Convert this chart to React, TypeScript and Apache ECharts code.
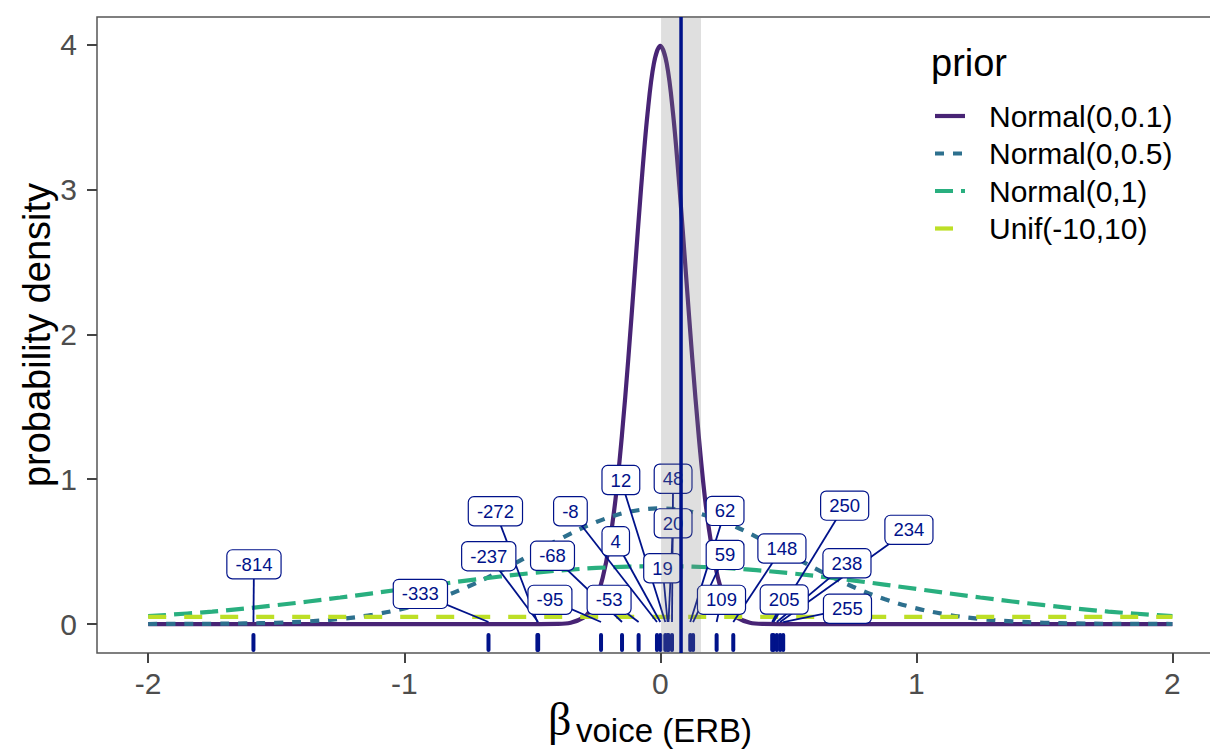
import React, { useEffect, useRef } from 'react';
import * as echarts from 'echarts';

// ---------- data ----------
const n01X = [-2, -0.5, -0.4, -0.35, -0.3, -0.275, -0.25, -0.225, -0.2, -0.175, -0.15, -0.125, -0.1, -0.075, -0.05, -0.025, 0, 0.025, 0.05, 0.075, 0.1, 0.125, 0.15, 0.175, 0.2, 0.225, 0.25, 0.275, 0.3, 0.35, 0.4, 0.5, 2];
const n01Y = [0, 0, 0.001, 0.009, 0.044, 0.091, 0.175, 0.32, 0.54, 0.86, 1.3, 1.83, 2.42, 3.01, 3.52, 3.87, 3.99, 3.87, 3.52, 3.01, 2.42, 1.83, 1.3, 0.86, 0.54, 0.32, 0.175, 0.091, 0.044, 0.009, 0.001, 0, 0];

const n05X = [-2, -1.875, -1.75, -1.625, -1.5, -1.375, -1.25, -1.125, -1, -0.875, -0.75, -0.625, -0.5, -0.375, -0.25, -0.125, 0, 0.125, 0.25, 0.375, 0.5, 0.625, 0.75, 0.875, 1, 1.125, 1.25, 1.375, 1.5, 1.625, 1.75, 1.875, 2];
const n05Y = [0.0003, 0.0007, 0.0017, 0.0041, 0.0089, 0.0182, 0.035, 0.0634, 0.108, 0.1725, 0.259, 0.3653, 0.4839, 0.6023, 0.7041, 0.7734, 0.798, 0.7734, 0.7041, 0.6023, 0.4839, 0.3653, 0.259, 0.1725, 0.108, 0.0634, 0.035, 0.0182, 0.0089, 0.0041, 0.0017, 0.0007, 0.0003];

const n1X = [-2, -1.75, -1.5, -1.25, -1, -0.75, -0.5, -0.25, 0, 0.25, 0.5, 0.75, 1, 1.25, 1.5, 1.75, 2];
const n1Y = [0.054, 0.086, 0.13, 0.183, 0.242, 0.301, 0.352, 0.387, 0.399, 0.387, 0.352, 0.301, 0.242, 0.183, 0.13, 0.086, 0.054];

const unifX = [-2, 2];
const unifY = [0.05, 0.05];

const priorNames = ['Normal(0,0.1)', 'Normal(0,0.5)', 'Normal(0,1)', 'Unif(-10,10)'];

const labelNames = ['-814', '-333', '-272', '-237', '-95', '-68', '-53', '-8', '4', '12', '19', '20', '48', '62', '59', '109', '148', '205', '250', '238', '234', '255'];
const pointX = [-1.589, -0.671, -0.48, -0.477, -0.2315, -0.1495, -0.0847, -0.013, 0.0, 0.0195, 0.0285, 0.032, 0.0457, 0.117, 0.128, 0.22, 0.285, 0.437, 0.442, 0.455, 0.468, 0.48];
// label (repelled) positions, in data units
const labelX = [-1.587, -0.937, -0.644, -0.67, -0.431, -0.421, -0.2, -0.351, -0.174, -0.154, 0.009, 0.05, 0.05, 0.253, 0.253, 0.239, 0.475, 0.484, 0.72, 0.729, 0.971, 0.731];
const labelY = [0.412, 0.208, 0.778, 0.468, 0.167, 0.471, 0.167, 0.778, 0.571, 0.994, 0.385, 0.695, 1.003, 0.781, 0.477, 0.167, 0.521, 0.169, 0.817, 0.419, 0.65, 0.105];

const bandRange = [0.003, 0.159];
const estimateX = 0.081;

const xTicks = [-2, -1, 0, 1, 2];
const yTicks = [0, 1, 2, 3, 4];

// ---------- styles ----------
const X_MIN = -2.2;
const X_MAX = 2.2;
const Y_MIN = -0.2;
const Y_MAX = 4.19;
const COLORS = ['#482475', '#2D708E', '#29AF7F', '#BDDF26'];
const DASHES: (string | number[])[] = ['solid', [9, 9], [18, 8], [18, 18]];
const NAVY = '#00128a';
const FONT = '"Liberation Sans", Arial, Helvetica, sans-serif';

const pairs = (xs: number[], ys: number[]) => xs.map((x, i) => [x, ys[i]]);

export default function App() {
  const ref = useRef<HTMLDivElement>(null);

  useEffect(() => {
    document.body.style.margin = '0';
    const chart = echarts.init(ref.current as HTMLDivElement, null, { renderer: 'svg' });

    const curveData = [pairs(n01X, n01Y), pairs(n05X, n05Y), pairs(n1X, n1Y), pairs(unifX, unifY)];

    const curveSeries = curveData.map((d, i) => ({
      type: 'line',
      name: priorNames[i],
      data: d,
      showSymbol: false,
      smooth: i === 3 ? false : 0.35,
      silent: true,
      z: 2,
      lineStyle: { color: COLORS[i], width: 4.2, type: DASHES[i], cap: 'butt' },
    }));

    const legendY = [116, 153.5, 191, 228.5];
    const legendGraphics: any[] = [
      {
        type: 'text', x: 931, y: 63,
        style: { text: 'prior', fontSize: 38, fontFamily: FONT, fill: '#000', align: 'left', verticalAlign: 'middle' },
      },
    ];
    priorNames.forEach((n, i) => {
      legendGraphics.push({
        type: 'line',
        shape: { x1: 935, y1: legendY[i], x2: 965, y2: legendY[i] },
        style: { stroke: COLORS[i], lineWidth: 4.2, lineDash: DASHES[i] === 'solid' ? null : DASHES[i] },
      });
      legendGraphics.push({
        type: 'text', x: 989, y: legendY[i],
        style: { text: n, fontSize: 30, fontFamily: FONT, fill: '#000', align: 'left', verticalAlign: 'middle' },
      });
    });

    const option: any = {
      animation: false,
      grid: {
        left: 97, top: 17, right: -13.6, bottom: 96,
        show: true, borderColor: '#555', borderWidth: 1.5, backgroundColor: 'transparent',
        containLabel: false, outerBoundsMode: 'none',
      },
      xAxis: {
        type: 'value', min: X_MIN, max: X_MAX,
        axisLine: { show: false, onZero: false },
        axisTick: { show: true, customValues: xTicks, length: 10, lineStyle: { color: '#444', width: 2 } },
        axisLabel: { customValues: xTicks, fontSize: 30, color: '#4d4d4d', margin: 15, fontFamily: FONT },
        splitLine: { show: false },
      },
      yAxis: {
        type: 'value', min: Y_MIN, max: Y_MAX,
        axisLine: { show: false, onZero: false },
        axisTick: { show: true, customValues: yTicks, length: 10, lineStyle: { color: '#444', width: 2 } },
        axisLabel: { customValues: yTicks, fontSize: 30, color: '#4d4d4d', margin: 20, fontFamily: FONT },
        splitLine: { show: false },
      },
      graphic: [
        {
          type: 'text', x: 37, y: 335, rotation: Math.PI / 2,
          style: { text: 'probability density', fontSize: 38, fontFamily: FONT, fill: '#000', align: 'center', verticalAlign: 'middle' },
        },
        {
          type: 'text', x: 548, y: 719,
          style: { text: 'β', fontSize: 46, fontFamily: '"Liberation Serif", "DejaVu Serif", serif', fill: '#000', align: 'left', verticalAlign: 'middle' },
        },
        {
          type: 'text', x: 576, y: 730,
          style: { text: 'voice (ERB)', fontSize: 33, fontFamily: FONT, fill: '#000', align: 'left', verticalAlign: 'middle' },
        },
        ...legendGraphics,
      ],
      series: [
        ...curveSeries,
        {
          type: 'custom',
          name: 'rug',
          silent: true,
          z: 3,
          data: pointX.map((x) => [x]),
          renderItem: (params: any, api: any) => {
            const p = api.coord([api.value(0), Y_MIN]);
            return {
              type: 'line',
              shape: { x1: p[0], y1: p[1] - 3, x2: p[0], y2: p[1] - 18 },
              style: { stroke: NAVY, lineWidth: 4, lineCap: 'round' },
            };
          },
        },
        {
          type: 'custom',
          name: 'segments',
          silent: true,
          z: 3,
          data: pointX.map((x, i) => [x, 0, labelX[i], labelY[i]]),
          renderItem: (params: any, api: any) => {
            const a = api.coord([api.value(0), api.value(1)]);
            const b = api.coord([api.value(2), api.value(3)]);
            return {
              type: 'line',
              shape: { x1: a[0], y1: a[1] - 2, x2: b[0], y2: b[1] },
              style: { stroke: NAVY, lineWidth: 1.8 },
            };
          },
        },
        {
          type: 'custom',
          name: 'labels',
          silent: true,
          z: 4,
          data: labelX.map((x, i) => [x, labelY[i], i]),
          renderItem: (params: any, api: any) => {
            const p = api.coord([api.value(0), api.value(1)]);
            const idx = api.value(2);
            return {
              type: 'text',
              x: p[0],
              y: p[1],
              style: {
                text: labelNames[idx],
                fontSize: 18.5,
                lineHeight: 18,
                fontFamily: FONT,
                fill: NAVY,
                align: 'center',
                verticalAlign: 'middle',
                backgroundColor: '#ffffff',
                borderColor: NAVY,
                borderWidth: 1.2,
                borderRadius: 5,
                padding: [5, 8],
              },
            };
          },
        },
        {
          type: 'custom',
          name: 'band',
          silent: true,
          z: 5,
          data: [[bandRange[0], bandRange[1]]],
          renderItem: (params: any, api: any) => {
            const a = api.coord([api.value(0), Y_MAX]);
            const b = api.coord([api.value(1), Y_MIN]);
            return {
              type: 'rect',
              shape: { x: a[0], y: a[1], width: b[0] - a[0], height: b[1] - a[1] },
              style: { fill: 'rgba(128,128,128,0.25)' },
            };
          },
        },
        {
          type: 'custom',
          name: 'estimate',
          silent: true,
          z: 6,
          data: [[estimateX]],
          renderItem: (params: any, api: any) => {
            const a = api.coord([api.value(0), Y_MAX]);
            const b = api.coord([api.value(0), Y_MIN]);
            return {
              type: 'line',
              shape: { x1: a[0], y1: a[1], x2: b[0], y2: b[1] },
              style: { stroke: NAVY, lineWidth: 3.5 },
            };
          },
        },
      ],
    };

    chart.setOption(option);
    return () => chart.dispose();
  }, []);

  return <div ref={ref} style={{ width: 1210, height: 749, position: 'absolute', left: 0, top: 0 }} />;
}
